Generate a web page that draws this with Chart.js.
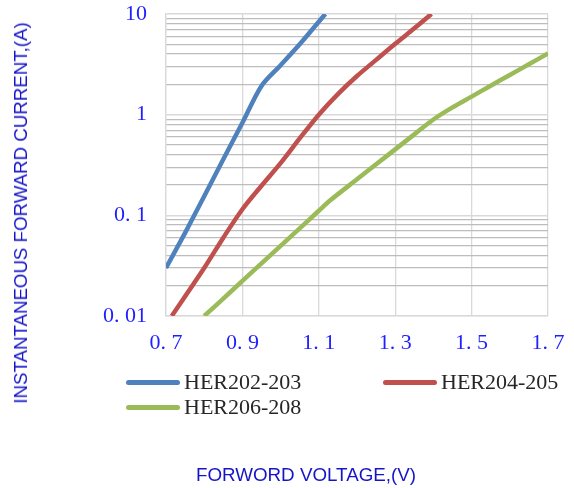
<!DOCTYPE html>
<html>
<head>
<meta charset="utf-8">
<script src="https://cdn.jsdelivr.net/npm/chart.js@4.4.1/dist/chart.umd.min.js"></script>
<style>
  html, body { margin: 0; padding: 0; background: #fff; }
  #wrap { position: relative; width: 574px; height: 488px; overflow: hidden; }
  #vfChart { position: absolute; left: 0; top: 0; }
  .ytitle { position: absolute; left: 21px; top: 213px; transform: translate(-50%, -50%) rotate(-90deg);
    white-space: nowrap; font: 18.7px 'Liberation Sans', Arial, sans-serif; color: #1414c8; }
  .xtitle { position: absolute; left: 306px; top: 475px; transform: translate(-50%, -50%);
    white-space: nowrap; font: 18.8px 'Liberation Sans', Arial, sans-serif; color: #1414c8; }
  .lg { position: absolute; display: flex; align-items: center; height: 26px; transform: translateY(-50%);
    font: 22px 'Liberation Serif', serif; color: #262626; white-space: nowrap; }
  .lg i { display: block; width: 54px; height: 5px; border-radius: 3px; margin-right: 4px; }
</style>
</head>
<body>
<div id="wrap">
  <canvas id="vfChart" width="574" height="488"></canvas>
  <div class="ytitle">INSTANTANEOUS FORWARD CURRENT,(A)</div>
  <div class="xtitle">FORWORD VOLTAGE,(V)</div>
</div>
<script>
// forward voltage (V) vs instantaneous forward current (A)
const seriesNames = ['HER202-203', 'HER204-205', 'HER206-208'];

const blueV = [0.70, 0.75, 0.80, 0.85, 0.90, 0.95, 1.00, 1.05, 1.117];
const blueI = [0.030, 0.067, 0.155, 0.36, 0.83, 1.93, 3.1, 5.0, 10];

const redV = [0.715, 0.80, 0.85, 0.90, 0.95, 1.00, 1.05, 1.10, 1.15, 1.20, 1.25, 1.30, 1.35, 1.395];
const redI = [0.010, 0.030, 0.060, 0.115, 0.197, 0.33, 0.58, 1.0, 1.6, 2.42, 3.5, 5.06, 7.2, 10];

const greenV = [0.80, 0.85, 0.90, 0.95, 1.00, 1.05, 1.10, 1.13, 1.20, 1.25, 1.30, 1.35, 1.40, 1.45, 1.50, 1.55, 1.60, 1.65, 1.70];
const greenI = [0.010, 0.0149, 0.0223, 0.0333, 0.0497, 0.0741, 0.111, 0.141, 0.228, 0.321, 0.452, 0.637, 0.896, 1.18, 1.51, 1.94, 2.48, 3.17, 4.05];

const xTicks = [0.7, 0.9, 1.1, 1.3, 1.5, 1.7];
const xTickLabels = ['0. 7', '0. 9', '1. 1', '1. 3', '1. 5', '1. 7'];
const yTicks = [0.01, 0.1, 1, 10];
const yTickLabels = ['0. 01', '0. 1', '1', '10'];

const colors = ['#4f81bd', '#c0504d', '#9bbb59'];
const legendSpots = [[126, 382], [383, 382], [126, 407]];

const pts = (vs, is) => vs.map((v, i) => ({ x: v, y: is[i] }));
const allSeries = [pts(blueV, blueI), pts(redV, redI), pts(greenV, greenI)];

const isMajor = v => Math.abs(Math.log10(v) - Math.round(Math.log10(v))) < 1e-6;

const chart = new Chart(document.getElementById('vfChart'), {
  type: 'line',
  data: {
    datasets: allSeries.map((d, i) => ({
      label: seriesNames[i], data: d,
      borderColor: colors[i], backgroundColor: colors[i],
      borderWidth: 4.5, pointRadius: 0, tension: 0.3, fill: false
    }))
  },
  options: {
    responsive: false, animation: false, devicePixelRatio: 1,
    layout: { padding: { top: 14, right: 26, left: 0, bottom: 0 } },
    plugins: { legend: { display: false }, tooltip: { enabled: false } },
    scales: {
      x: {
        type: 'linear', min: 0.7, max: 1.7,
        afterBuildTicks: s => { s.ticks = xTicks.map(v => ({ value: v })); },
        afterFit: s => { s.height = 172; s.paddingLeft = 0; s.paddingRight = 0; },
        grid: { color: '#d9d9d9', lineWidth: 1.3, drawTicks: false },
        border: { color: '#d9d9d9', width: 1.3 },
        ticks: {
          autoSkip: false, maxRotation: 0, padding: 14, color: '#1f1fff',
          font: { family: "'Liberation Serif', serif", size: 22 },
          callback: (v, i) => xTickLabels[i]
        }
      },
      y: {
        type: 'logarithmic', min: 0.01, max: 10,
        afterBuildTicks: s => {
          const t = [];
          yTicks.forEach((d, k) => {
            if (k === yTicks.length - 1) { t.push({ value: d }); return; }
            for (let m = 1; m <= 9; m++) t.push({ value: d * m });
          });
          s.ticks = t;
        },
        afterFit: s => { s.width = 166; s.paddingTop = 0; s.paddingBottom = 0; },
        grid: {
          drawTicks: false,
          color: c => isMajor(c.tick.value) ? '#d9d9d9' : '#bdbdbd',
          lineWidth: c => isMajor(c.tick.value) ? 1.6 : 1.2
        },
        border: { color: '#d9d9d9', width: 1.3 },
        ticks: {
          autoSkip: false, padding: 19, color: '#1f1fff',
          font: { family: "'Liberation Serif', serif", size: 22 },
          callback: v => {
            const k = yTicks.findIndex(t => Math.abs(t - v) / t < 1e-6);
            return k >= 0 ? yTickLabels[k] : '';
          }
        }
      }
    }
  }
});

// legend below the plot, built from the datasets
const wrap = document.getElementById('wrap');
chart.data.datasets.forEach((ds, i) => {
  const el = document.createElement('div');
  el.className = 'lg';
  el.style.left = legendSpots[i][0] + 'px';
  el.style.top = legendSpots[i][1] + 'px';
  el.innerHTML = '<i style="background:' + ds.borderColor + '"></i>' + ds.label;
  wrap.appendChild(el);
});
</script>
</body>
</html>
